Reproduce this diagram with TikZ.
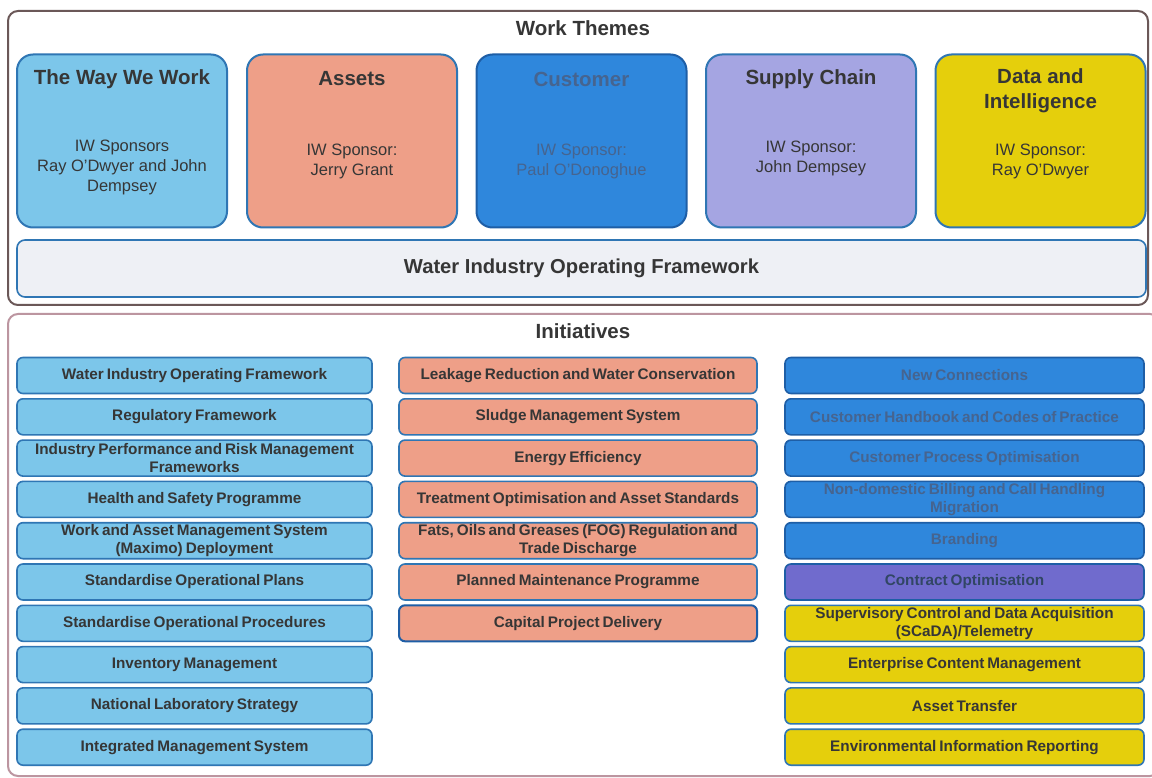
\documentclass[tikz,border=0pt]{standalone}
\usepackage{fontspec}
\setmainfont{Liberation Sans}
\newfontfamily\itemfont{Liberation Sans}[WordSpace=0.7]
\begin{document}
\definecolor{frameA}{HTML}{6B5858}
\definecolor{frameB}{HTML}{BC95A0}
\definecolor{edge}{HTML}{2F76B4}
\definecolor{wayfill}{HTML}{7CC6EA}
\definecolor{assetfill}{HTML}{EE9F88}
\definecolor{custfill}{HTML}{2F87DC}
\definecolor{custedge}{HTML}{1E5EA6}
\definecolor{custtext}{HTML}{46648F}
\definecolor{supfill}{HTML}{A5A5E2}
\definecolor{datafill}{HTML}{E5CF0C}
\definecolor{contfill}{HTML}{706BCD}
\definecolor{barfill}{HTML}{EEF0F5}
\definecolor{ink}{HTML}{363636}
\begin{tikzpicture}[x=1pt,y=-1pt,
  outer/.style={draw, rounded corners=10pt, line width=2pt},
  theme/.style={draw=edge, rounded corners=16pt, line width=2pt, minimum width=210pt, minimum height=173pt, inner sep=0pt},
  ttitle/.style={font=\fontsize{20.5}{25}\selectfont\bfseries, text=ink, align=center},
  tsponsor/.style={font=\fontsize{16.5}{20}\selectfont, text=ink, align=center},
  item/.style={draw=edge, rounded corners=6pt, line width=1.6pt, minimum height=36pt, inner sep=0pt, text=ink,
    font=\itemfont\fontsize{15.3}{17.5}\selectfont\bfseries, align=center},
  lft/.style={item, fill=wayfill, minimum width=355pt},
  mid/.style={item, fill=assetfill, minimum width=358pt},
  rgt/.style={item, minimum width=359pt},
  heading/.style={font=\fontsize{20.5}{23}\selectfont\bfseries, text=ink}
]
\useasboundingbox (0,0) rectangle (1152,778);
\fill[white] (0,0) rectangle (1152,778);

% outer frames
\draw[outer, draw=frameA] (8,11) rectangle (1148,305);
\draw[outer, draw=frameB] (8,314) rectangle (1160,776);
\node[heading] (wt) at (583,28) {Work Themes};
\node[heading] (ini) at (583,331) {Initiatives};

% work theme boxes
\node[theme, fill=wayfill] (way) at (122,141) {};
\node[theme, fill=assetfill] (asset) at (352,141) {};
\node[theme, fill=custfill, draw=custedge] (cust) at (581.5,141) {};
\node[theme, fill=supfill] (sup) at (811,141) {};
\node[theme, fill=datafill] (data) at (1040.5,141) {};

\node[ttitle] (wayT) at (122,79) {The Way We Work};
\node[tsponsor] (wayS) at (122,167) {IW Sponsors\\Ray O'Dwyer and John\\Dempsey};
\node[ttitle] (assetT) at (352,79) {Assets};
\node[tsponsor] (assetS) at (352,161) {IW Sponsor:\\Jerry Grant};
\node[ttitle, text=custtext] (custT) at (581.5,79) {Customer};
\node[tsponsor, text=custtext] (custS) at (581.5,161) {IW Sponsor:\\Paul O'Donoghue};
\node[ttitle] (supT) at (811,79) {Supply Chain};
\node[tsponsor] (supS) at (811,158) {IW Sponsor:\\John Dempsey};
\node[ttitle] (dataT) at (1040.5,91) {Data and\\Intelligence};
\node[tsponsor] (dataS) at (1040.5,161) {IW Sponsor:\\Ray O'Dwyer};

% framework bar
\node[draw=edge, fill=barfill, rounded corners=8pt, line width=1.6pt, minimum width=1129pt, minimum height=57pt,
  font=\fontsize{20.2}{23}\selectfont\bfseries, text=ink] (wiof) at (581.5,268.5) {Water Industry Operating Framework};

% initiatives: left column
\foreach \t [count=\i] in {Water Industry Operating Framework, Regulatory Framework,
  {Industry Performance and Risk Management\\Frameworks}, Health and Safety Programme,
  {Work and Asset Management System\\(Maximo) Deployment}, Standardise Operational Plans,
  Standardise Operational Procedures, Inventory Management, National Laboratory Strategy,
  Integrated Management System}
  \node[lft] (L\i) at (194.5,{375.5+41.3*(\i-1)}) {\t};

% initiatives: middle column
\foreach \t [count=\i] in {Leakage Reduction and Water Conservation, Sludge Management System,
  Energy Efficiency, Treatment Optimisation and Asset Standards,
  {Fats, Oils and Greases (FOG) Regulation and\\Trade Discharge}, Planned Maintenance Programme}
  \node[mid] (M\i) at (578,{375.5+41.3*(\i-1)}) {\t};
\node[mid, draw=custedge, line width=2pt] (M7) at (578,{375.5+41.3*6}) {Capital Project Delivery};

% initiatives: right column
\foreach \t [count=\i] in {New Connections, Customer Handbook and Codes of Practice,
  Customer Process Optimisation, {Non-domestic Billing and Call Handling\\Migration}, Branding}
  \node[rgt, fill=custfill, draw=custedge, text=custtext] (R\i) at (964.5,{375.5+41.3*(\i-1)}) {\t};
\node[rgt, fill=contfill, draw=custedge, text=custtext!70!black] (R6) at (964.5,{375.5+41.3*5}) {Contract Optimisation};
\foreach \t [count=\i from 7] in {{Supervisory Control and Data Acquisition\\(SCaDA)/Telemetry},
  Enterprise Content Management, Asset Transfer, Environmental Information Reporting}
  \node[rgt, fill=datafill] (R\i) at (964.5,{375.5+41.3*(\i-1)}) {\t};
\end{tikzpicture}
\end{document}
